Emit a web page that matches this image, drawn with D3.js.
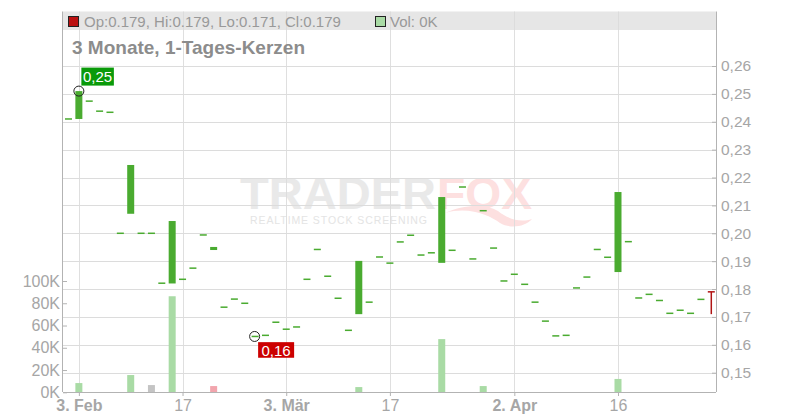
<!DOCTYPE html>
<html><head><meta charset="utf-8">
<script src="https://cdn.jsdelivr.net/npm/d3@7"></script>
<style>
html,body{margin:0;padding:0;background:#fff;}
svg{display:block;font-family:"Liberation Sans",Arial,sans-serif;}
</style></head><body>
<svg id="c" width="800" height="420"></svg>
<script>
// ---- data ----
const dates = ["2025-01-31","2025-02-03","2025-02-04","2025-02-05","2025-02-06","2025-02-07","2025-02-10","2025-02-11","2025-02-12","2025-02-13","2025-02-14","2025-02-17","2025-02-18","2025-02-19","2025-02-20","2025-02-21","2025-02-24","2025-02-25","2025-02-26","2025-02-27","2025-02-28","2025-03-03","2025-03-04","2025-03-05","2025-03-06","2025-03-07","2025-03-10","2025-03-11","2025-03-12","2025-03-13","2025-03-14","2025-03-17","2025-03-18","2025-03-19","2025-03-20","2025-03-21","2025-03-24","2025-03-25","2025-03-26","2025-03-27","2025-03-28","2025-03-31","2025-04-01","2025-04-02","2025-04-03","2025-04-04","2025-04-07","2025-04-08","2025-04-09","2025-04-10","2025-04-11","2025-04-14","2025-04-15","2025-04-16","2025-04-17","2025-04-22","2025-04-23","2025-04-24","2025-04-25","2025-04-28","2025-04-29","2025-04-30","2025-05-02"];
const open  = [0.241,0.241,0.2474,0.2438,0.2434,0.200,0.207,0.200,0.200,0.1821,0.182,0.1835,0.1875,0.1994,0.194,0.1735,0.1764,0.1749,0.1630,0.1634,0.1681,0.1656,0.1664,0.1835,0.1942,0.1846,0.1767,0.1652,0.171,0.1753,0.1915,0.1893,0.1969,0.1993,0.1922,0.1930,0.1894,0.1939,0.2166,0.1908,0.2081,0.1947,0.1829,0.1853,0.1817,0.1753,0.1685,0.1632,0.1634,0.1804,0.1843,0.1942,0.1914,0.1861,0.1970,0.1768,0.1781,0.1759,0.1713,0.1724,0.1713,0.1763,0.179];
const close = [0.241,0.251,0.2474,0.2438,0.2434,0.200,0.2245,0.200,0.200,0.1821,0.2044,0.1835,0.1875,0.1994,0.1951,0.1735,0.1764,0.1749,0.1630,0.1634,0.1681,0.1656,0.1664,0.1835,0.1942,0.1846,0.1767,0.1652,0.1901,0.1753,0.1915,0.1893,0.1969,0.1993,0.1922,0.1930,0.2130,0.1939,0.2166,0.1908,0.2081,0.1947,0.1829,0.1853,0.1817,0.1753,0.1685,0.1632,0.1634,0.1804,0.1843,0.1942,0.1914,0.2148,0.1970,0.1768,0.1781,0.1759,0.1713,0.1724,0.1713,0.1763,0.179];
const high  = [0.241,0.251,0.2474,0.2438,0.2434,0.200,0.2245,0.200,0.200,0.1821,0.2044,0.1835,0.1875,0.1994,0.1951,0.1735,0.1764,0.1749,0.1630,0.1634,0.1681,0.1656,0.1664,0.1835,0.1942,0.1846,0.1767,0.1652,0.1901,0.1753,0.1915,0.1893,0.1969,0.1993,0.1922,0.1930,0.2130,0.1939,0.2166,0.1908,0.2081,0.1947,0.1829,0.1853,0.1817,0.1753,0.1685,0.1632,0.1634,0.1804,0.1843,0.1942,0.1914,0.2148,0.1970,0.1768,0.1781,0.1759,0.1713,0.1724,0.1713,0.1763,0.179];
const low   = [0.241,0.241,0.2474,0.2438,0.2434,0.200,0.207,0.200,0.200,0.1821,0.182,0.1835,0.1875,0.1994,0.194,0.1735,0.1764,0.1749,0.1630,0.1634,0.1681,0.1656,0.1664,0.1835,0.1942,0.1846,0.1767,0.1652,0.171,0.1753,0.1915,0.1893,0.1969,0.1993,0.1922,0.1930,0.1894,0.1939,0.2166,0.1908,0.2081,0.1947,0.1829,0.1853,0.1817,0.1753,0.1685,0.1632,0.1634,0.1804,0.1843,0.1942,0.1914,0.1861,0.1970,0.1768,0.1781,0.1759,0.1713,0.1724,0.1713,0.1763,0.171];
const volume = [0,8300,0,0,0,0,15500,0,6500,0,86300,0,0,0,5600,0,0,0,0,0,0,0,0,0,0,0,0,0,4700,0,0,0,0,0,0,0,47800,0,0,0,5600,0,0,0,0,0,0,0,0,0,0,0,0,12000,0,0,0,0,0,0,0,0,0];
const xTickDates  = ["2025-02-03","2025-02-17","2025-03-03","2025-03-17","2025-04-02","2025-04-16"];
const xTickLabels = ["3. Feb","17","3. Mär","17","2. Apr","16"];
const xTickBold   = [true,false,true,false,true,false];
const priceTicks = [0.15,0.16,0.17,0.18,0.19,0.20,0.21,0.22,0.23,0.24,0.25,0.26];
const volTicks = [0,20000,40000,60000,80000,100000];
const title = "3 Monate, 1-Tages-Kerzen";
const legendText = "Op:0.179, Hi:0.179, Lo:0.171, Cl:0.179";
const volLegendText = "Vol: 0K";
const hiLabel = "0,25", loLabel = "0,16";

// ---- layout ----
const L = 63, R = 716, T = 11.5, B = 392;
const svg = d3.select("#c");
const x = d3.scalePoint().domain(dates).range([68.5, 711.3]);
const y = d3.scaleLinear().domain([0.15, 0.26]).range([372.7, 66]);
const yv = d3.scaleLinear().domain([0, 100000]).range([392.3, 281]);

const GREEN = "#4aab30", RED = "#b01515";
const gridC = "#dcdcdc", axisC = "#b3b3b3", txtC = "#a6a6a6";

// legend band
svg.append("rect").attr("x", L).attr("y", T).attr("width", R - L).attr("height", 30 - T).attr("fill", "#e6e6e6");

// watermark
const wm = svg.append("g");
wm.append("text").attr("x", 240).attr("y", 208.5).attr("font-size", 44).attr("font-weight", 900)
  .attr("textLength", 196).attr("lengthAdjust", "spacingAndGlyphs").attr("fill", "#e9e9e9").text("TRADER");
wm.append("text").attr("x", 437).attr("y", 208.5).attr("font-size", 44).attr("font-weight", 900)
  .attr("textLength", 95).attr("lengthAdjust", "spacingAndGlyphs").attr("fill", "#fde0e0").text("FOX");
wm.append("path").attr("d", "M445,213 C470,206 490,216 500,223 C510,229 525,227 532,219 C520,223 508,219 498,211 C485,203 462,205 445,213 Z")
  .attr("fill", "#fde0e0");
wm.append("text").attr("x", 250).attr("y", 223.8).attr("font-size", 10.5)
  .attr("textLength", 177).attr("lengthAdjust", "spacing").attr("fill", "#e4e4e4").text("REALTIME STOCK SCREENING");

// gridlines
svg.append("g").selectAll("line").data(priceTicks).join("line")
  .attr("x1", L).attr("x2", R).attr("y1", d => Math.round(y(d)) + 0.5).attr("y2", d => Math.round(y(d)) + 0.5)
  .attr("stroke", gridC).attr("stroke-width", 1);
svg.append("g").selectAll("line").data(xTickDates).join("line")
  .attr("x1", d => Math.round(x(d)) + 0.5).attr("x2", d => Math.round(x(d)) + 0.5).attr("y1", T).attr("y2", B)
  .attr("stroke", gridC).attr("stroke-width", 1).attr("opacity", 0.9);

// volume bars
const idx = d3.range(dates.length);
function volColor(i) {
  if (i === 0) return "#a9dba5";
  if (close[i] > close[i - 1]) return "#a9dba5";
  if (close[i] < close[i - 1]) return "#f2a5ad";
  return "#c4c4c4";
}
svg.append("g").selectAll("rect").data(idx.filter(i => volume[i] > 0)).join("rect")
  .attr("x", i => x(dates[i]) - 3.5).attr("width", 7)
  .attr("y", i => yv(volume[i])).attr("height", i => yv(0) - yv(volume[i]))
  .attr("fill", i => volColor(i));

// candles
function candleColor(i) {
  if (close[i] > open[i]) return GREEN;
  if (close[i] < open[i]) return RED;
  return high[i] > low[i] ? RED : GREEN;
}
const cg = svg.append("g");
idx.forEach(i => {
  const cx = x(dates[i]);
  const col = candleColor(i);
  if (high[i] > Math.max(open[i], close[i]) || low[i] < Math.min(open[i], close[i])) {
    cg.append("line").attr("x1", cx).attr("x2", cx).attr("y1", y(high[i])).attr("y2", y(low[i]))
      .attr("stroke", col).attr("stroke-width", 1.5);
  }
  const top = y(Math.max(open[i], close[i])), bot = y(Math.min(open[i], close[i]));
  if (bot - top < 1.5) {
    cg.append("rect").attr("x", cx - 3.5).attr("width", 7).attr("y", (top + bot) / 2 - 0.75).attr("height", 1.5).attr("fill", col);
  } else {
    cg.append("rect").attr("x", cx - 3.5).attr("width", 7).attr("y", top).attr("height", bot - top).attr("fill", col);
  }
});

// axes
const xAxis = svg.append("g").attr("transform", `translate(0,${B})`)
  .call(d3.axisBottom(x).tickValues(xTickDates).tickSize(4).tickPadding(4).tickFormat((d, k) => xTickLabels[k]));
xAxis.select(".domain").attr("d", `M${L},0.5H${R}`).attr("stroke", axisC);
xAxis.selectAll(".tick line").attr("stroke", axisC);
xAxis.selectAll(".tick text").attr("font-size", 16).attr("fill", txtC).attr("font-family", null)
  .attr("font-weight", (d, k) => xTickBold[k] ? "bold" : "normal");

const yAxis = svg.append("g").attr("transform", `translate(${R},0)`)
  .call(d3.axisRight(y).tickValues(priceTicks).tickSize(-4).tickPadding(5).tickFormat(d => d3.format(".2f")(d).replace(".", ",")));
yAxis.select(".domain").attr("d", `M0.5,${T}V${B}`).attr("stroke", axisC);
yAxis.selectAll(".tick line").attr("stroke", axisC);
yAxis.selectAll(".tick text").attr("font-size", 15.5).attr("fill", txtC).attr("font-family", null);

const vAxis = svg.append("g").attr("transform", `translate(${L},0)`)
  .call(d3.axisLeft(yv).tickValues(volTicks).tickSize(-4).tickPadding(3).tickFormat(d => (d / 1000) + "K"));
vAxis.select(".domain").attr("d", `M-0.5,${T}V${B}`).attr("stroke", axisC);
vAxis.selectAll(".tick line").attr("stroke", axisC);
vAxis.selectAll(".tick text").attr("font-size", 16).attr("fill", txtC).attr("font-family", null);

// high / low markers
const hiI = d3.maxIndex(high), loI = d3.minIndex(low);
const hx = x(dates[hiI]), hy = y(high[hiI]);
svg.append("circle").attr("cx", hx).attr("cy", hy).attr("r", 5).attr("fill", "none").attr("stroke", "#222").attr("stroke-width", 1);
svg.append("rect").attr("x", hx + 2.5).attr("y", hy - 23.5).attr("width", 32.5).attr("height", 18).attr("fill", "#0a9a0a");
svg.append("text").attr("x", hx + 18.7).attr("y", hy - 9.5).attr("text-anchor", "middle").attr("font-size", 15).attr("fill", "#fff").text(hiLabel);
const lx = x(dates[loI]), ly = y(low[loI]);
svg.append("circle").attr("cx", lx - 0.5).attr("cy", ly).attr("r", 5).attr("fill", "none").attr("stroke", "#222").attr("stroke-width", 1);
svg.append("rect").attr("x", lx + 3).attr("y", ly + 5.7).attr("width", 36).attr("height", 15.6).attr("fill", "#cc0000");
svg.append("text").attr("x", lx + 21).attr("y", ly + 19.2).attr("text-anchor", "middle").attr("font-size", 15).attr("fill", "#fff").text(loLabel);

// legend
svg.append("rect").attr("x", 68.5).attr("y", 16.5).attr("width", 10).attr("height", 10).attr("fill", "#bb1111").attr("stroke", "#222").attr("stroke-width", 1);
svg.append("text").attr("x", 84).attr("y", 26.5).attr("font-size", 15).attr("fill", "#999").text(legendText);
svg.append("rect").attr("x", 375.5).attr("y", 16.5).attr("width", 10).attr("height", 10).attr("fill", "#a9dba5").attr("stroke", "#222").attr("stroke-width", 1);
svg.append("text").attr("x", 390).attr("y", 26.5).attr("font-size", 15).attr("fill", "#999").text(volLegendText);

// title
svg.append("text").attr("x", 72).attr("y", 54.2).attr("font-size", 18.5).attr("font-weight", "bold").attr("fill", "#8c8c8c")
  .attr("textLength", 233).attr("lengthAdjust", "spacingAndGlyphs").text(title);
</script>
</body></html>
